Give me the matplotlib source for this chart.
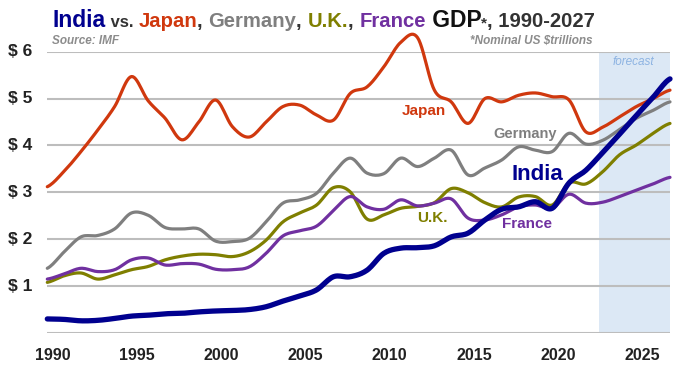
import numpy as np
import matplotlib
matplotlib.use("Agg")
import matplotlib.pyplot as plt
import matplotlib.transforms as mtransforms

plt.rcParams['font.family'] = ['Liberation Sans', 'DejaVu Sans']

# GDP, nominal US$ trillions
years = list(range(1990, 2028))
japan = [3.12, 3.45, 3.87, 4.33, 4.83, 5.47, 4.95, 4.58, 4.12, 4.50,
         4.97, 4.40, 4.18, 4.50, 4.83, 4.86, 4.65, 4.54, 5.11, 5.25,
         5.68, 6.20, 6.30, 5.18, 4.93, 4.47, 5.00, 4.93, 5.07, 5.12,
         5.04, 4.97, 4.29, 4.39, 4.61, 4.83, 5.00, 5.18]
germany = [1.38, 1.73, 2.05, 2.08, 2.22, 2.56, 2.51, 2.25, 2.22, 2.22,
           1.96, 1.95, 2.02, 2.37, 2.77, 2.84, 2.98, 3.41, 3.73, 3.41,
           3.40, 3.73, 3.55, 3.73, 3.90, 3.37, 3.52, 3.69, 3.97, 3.90,
           3.87, 4.26, 4.03, 4.11, 4.34, 4.58, 4.75, 4.93]
uk = [1.08, 1.22, 1.28, 1.15, 1.24, 1.35, 1.42, 1.56, 1.64, 1.68,
      1.67, 1.63, 1.73, 1.98, 2.37, 2.56, 2.73, 3.10, 3.01, 2.43,
      2.52, 2.66, 2.70, 2.78, 3.08, 2.99, 2.78, 2.69, 2.90, 2.91,
      2.73, 3.20, 3.18, 3.44, 3.80, 4.01, 4.26, 4.47]
france = [1.15, 1.26, 1.38, 1.31, 1.35, 1.56, 1.60, 1.45, 1.48, 1.47,
          1.36, 1.35, 1.41, 1.70, 2.07, 2.18, 2.28, 2.61, 2.91, 2.69,
          2.64, 2.84, 2.71, 2.77, 2.86, 2.45, 2.41, 2.52, 2.69, 2.73,
          2.66, 2.96, 2.77, 2.79, 2.91, 3.05, 3.18, 3.32]
india = [0.30, 0.29, 0.26, 0.27, 0.31, 0.36, 0.38, 0.41, 0.42, 0.45,
         0.47, 0.48, 0.50, 0.56, 0.68, 0.79, 0.92, 1.20, 1.20, 1.34,
         1.70, 1.81, 1.82, 1.86, 2.05, 2.13, 2.41, 2.64, 2.69, 2.80,
         2.66, 3.20, 3.47, 3.85, 4.24, 4.64, 5.03, 5.42]

forecast_start = 2022.8
xticks = [1990, 1995, 2000, 2005, 2010, 2015, 2020, 2025]
yticks = [1, 2, 3, 4, 5, 6]

c_india = '#00008f'
c_japan = '#d0380e'
c_germany = '#7f7f7f'
c_uk = '#7f7f00'
c_france = '#7030a0'


def smooth(x, y, n=12):
    # Excel-style smoothed line (Bezier through the points)
    x = np.asarray(x, float)
    y = np.asarray(y, float)
    xp = np.concatenate([[2 * x[0] - x[1]], x, [2 * x[-1] - x[-2]]])
    yp = np.concatenate([[y[0]], y, [y[-1]]])
    xs, ys = [], []
    t = np.linspace(0, 1, n, endpoint=False)
    for i in range(1, len(xp) - 2):
        p0, p1, p2, p3 = [np.array([xp[j], yp[j]]) for j in (i - 1, i, i + 1, i + 2)]
        c1 = p1 + (p2 - p0) / 6
        c2 = p2 - (p3 - p1) / 6
        b = (np.outer((1 - t) ** 3, p1) + np.outer(3 * (1 - t) ** 2 * t, c1)
             + np.outer(3 * (1 - t) * t ** 2, c2) + np.outer(t ** 3, p2))
        xs.append(b[:, 0])
        ys.append(b[:, 1])
    xs.append([x[-1]])
    ys.append([y[-1]])
    return np.concatenate(xs), np.concatenate(ys)


fig = plt.figure(figsize=(6.77, 3.66), dpi=100)
ax = fig.add_axes([47.3 / 677, 33 / 366, (670 - 47.3) / 677, (333 - 51.7) / 366])
ax.set_xlim(1990, 2027)
ax.set_ylim(0, 6)

ax.axvspan(forecast_start, 2027, color='#dce8f5', lw=0, zorder=0)
for v in range(0, 7):
    ax.axhline(v, color='#bdbdbd', lw=1.5, zorder=1)

for vals, col, lw in [(japan, c_japan, 2.3), (germany, c_germany, 2.3),
                      (uk, c_uk, 2.3), (france, c_france, 2.3), (india, c_india, 3.8)]:
    sx, sy = smooth(years, vals)
    ax.plot(sx, sy, color=col, lw=lw, solid_capstyle='round', zorder=3, clip_on=False)

for s in ax.spines.values():
    s.set_visible(False)
ax.set_xticks([])
ax.set_yticks([])

# x tick labels
for yr in xticks:
    ax.text(yr + 0.35, -0.47, str(yr), ha='center', va='center', fontsize=11.5,
            fontweight='bold', color='#222222')
# y tick labels
ytr = mtransforms.blended_transform_factory(fig.transFigure, ax.transData)
for v in yticks:
    ax.text(8 / 677, v, '$ %d' % v, transform=ytr, ha='left', va='center',
            fontsize=12.5, fontweight='bold', color='#222222')

# series labels
ax.text(2012.4, (333 - 111) / 46.9, 'Japan', color=c_japan, fontsize=11,
        fontweight='bold', ha='center', va='center')
ax.text(2018.4, (333 - 134) / 46.9, 'Germany', color=c_germany, fontsize=10.5,
        fontweight='bold', ha='center', va='center')
ax.text(2019.1, (333 - 174) / 46.9, 'India', color=c_india, fontsize=16,
        fontweight='bold', ha='center', va='center')
ax.text(2012.9, (333 - 218) / 46.9, 'U.K.', color=c_uk, fontsize=11,
        fontweight='bold', ha='center', va='center')
ax.text(2018.5, (333 - 224) / 46.9, 'France', color=c_france, fontsize=11,
        fontweight='bold', ha='center', va='center')
ax.text(2024.8, (333 - 62) / 46.9, 'forecast', color='#8db3e2', fontsize=8.5,
        style='italic', ha='center', va='center')

# notes
fig.text(52 / 677, 1 - 41 / 366, 'Source: IMF', color='#8c8c8c', fontsize=8.5,
         style='italic', fontweight='bold', ha='left', va='center')
fig.text(592 / 677, 1 - 41 / 366, '*Nominal US $trillions', color='#8c8c8c',
         fontsize=8.5, style='italic', fontweight='bold', ha='right', va='center')

# multi-coloured title, scaled to span the same width as the reference
parts = [('India', c_india, 18), (' vs. ', '#333333', 13), ('Japan', c_japan, 16),
         (', ', '#333333', 16), ('Germany', c_germany, 16), (', ', '#333333', 16),
         ('U.K.', c_uk, 16), (', ', '#333333', 16), ('France', c_france, 16),
         (' GDP', '#111111', 18), ('*', '#333333', 12), (', 1990-2027', '#333333', 16)]
renderer = fig.canvas.get_renderer()
probe = []
total = 0
for txt, col, fs in parts:
    t = fig.text(0, 0, txt, fontsize=fs, fontweight='bold')
    total += t.get_window_extent(renderer).width
    probe.append(t)
for t in probe:
    t.remove()
k = (596 - 53) / total
x = 53
for txt, col, fs in parts:
    t = fig.text(x / 677, 1 - 27 / 366, txt, color=col, fontsize=fs * k,
                 fontweight='bold', ha='left', va='baseline')
    x += t.get_window_extent(renderer).width

fig.savefig('out.png', dpi=100)
